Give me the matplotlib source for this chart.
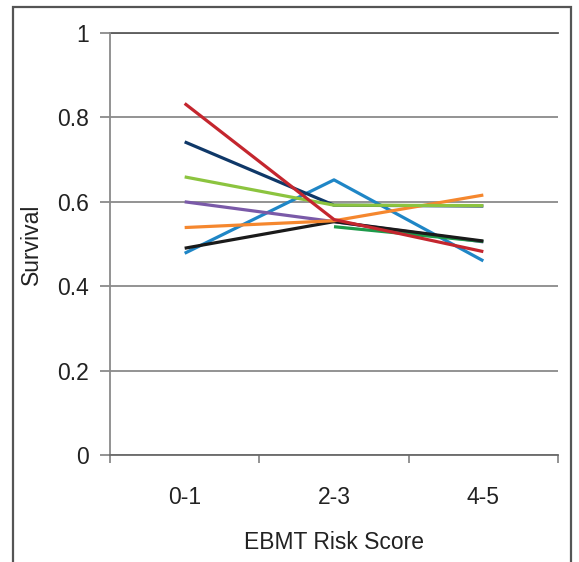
import numpy as np
import matplotlib.pyplot as plt
from matplotlib.patches import Rectangle

plt.rcParams['font.family'] = ['Liberation Sans', 'DejaVu Sans']

categories = ['0-1', '2-3', '4-5']

blue = [0.478, 0.652, 0.460]
navy = [0.742, 0.592, 0.590]
purple = [0.600, 0.553, 0.505]
black = [0.490, 0.553, 0.507]
dark_green = [np.nan, 0.541, 0.506]
orange = [0.539, 0.555, 0.616]
light_green = [0.659, 0.592, 0.591]
red = [0.833, 0.558, 0.482]

series = [
    (blue, '#1f86c6'),
    (navy, '#0f3868'),
    (purple, '#7a5aa8'),
    (dark_green, '#1e9a4a'),
    (black, '#1a1a1a'),
    (orange, '#f5872e'),
    (light_green, '#8cc43f'),
    (red, '#c4262e'),
]

W, H = 579, 562
FS = 16.5
fig = plt.figure(figsize=(W / 100, H / 100), dpi=100)
ax = fig.add_axes([110 / W, 1 - 455 / H, 448 / W, 422 / H])

x = np.arange(len(categories))
for vals, col in series:
    ax.plot(x, vals, color=col, lw=2.3, solid_capstyle='butt', zorder=3)

ax.set_xlim(-0.5, 2.5)
ax.set_ylim(0, 1)
ax.set_yticks([0, 0.2, 0.4, 0.6, 0.8, 1.0])
ax.set_yticklabels(['0', '0.2', '0.4', '0.6', '0.8', '1'])
ax.yaxis.grid(True, color='#8a8a8a', lw=1.3)
ax.set_axisbelow(True)
# top reference line drawn a little darker
ax.axhline(1.0, color='#5a5a5a', lw=1.3, zorder=1, clip_on=False)

ax.set_xticks([-0.5, 0.5, 1.5, 2.5])
ax.set_xticklabels([])
ax.set_xticks(x, minor=True)
ax.set_xticklabels(categories, minor=True)
ax.tick_params(axis='x', which='minor', length=0, pad=22, labelsize=FS, labelcolor='#222222')
ax.tick_params(axis='x', which='major', length=6, color='#8a8a8a', width=1.3, direction='out')
ax.tick_params(axis='y', length=7, color='#8a8a8a', width=1.3, pad=8,
               labelsize=FS, labelcolor='#222222')

for s in ['top', 'right']:
    ax.spines[s].set_visible(False)
ax.spines['left'].set_color('#8a8a8a')
ax.spines['bottom'].set_color('#6a6a6a')
for s in ['left', 'bottom']:
    ax.spines[s].set_linewidth(1.3)

ax.set_ylabel('Survival', fontsize=FS, color='#222222', labelpad=10)
ax.set_xlabel('EBMT Risk Score', fontsize=FS, color='#222222', labelpad=16)

# outer frame around the figure
frame = Rectangle((13 / W, -0.1), (571 - 13) / W, (H - 7) / H + 0.1,
                  transform=fig.transFigure, fill=False,
                  edgecolor='#555555', lw=1.6, zorder=10)
fig.patches.append(frame)

fig.savefig('out.png', dpi=100)
